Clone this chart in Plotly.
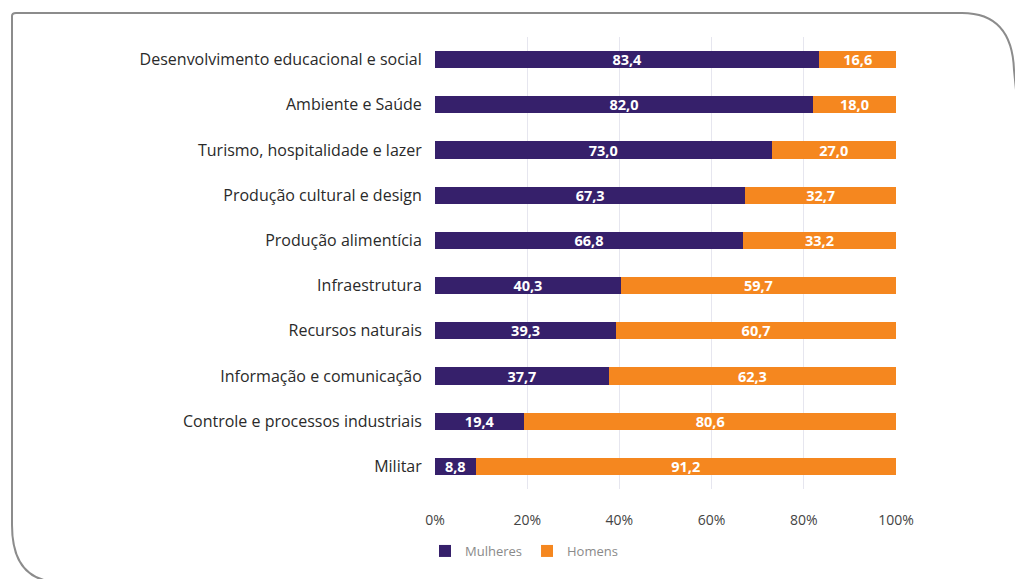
import plotly.graph_objects as go

categories = [
    "Desenvolvimento educacional e social",
    "Ambiente e Saúde",
    "Turismo, hospitalidade e lazer",
    "Produção cultural e design",
    "Produção alimentícia",
    "Infraestrutura",
    "Recursos naturais",
    "Informação e comunicação",
    "Controle e processos industriais",
    "Militar",
]
mulheres = [83.4, 82.0, 73.0, 67.3, 66.8, 40.3, 39.3, 37.7, 19.4, 8.8]
homens = [16.6, 18.0, 27.0, 32.7, 33.2, 59.7, 60.7, 62.3, 80.6, 91.2]
tick_vals = [0, 20, 40, 60, 80, 100]
tick_text = ["0%", "20%", "40%", "60%", "80%", "100%"]

PURPLE = "#36206b"
ORANGE = "#f5871f"

def fmt(v):
    return f"{v:.1f}".replace(".", ",")

label_font = dict(color="white", size=14.5, family="Open Sans", weight="bold")

fig = go.Figure()
fig.add_trace(go.Bar(
    y=categories, x=mulheres, name="Mulheres", orientation="h",
    marker=dict(color=PURPLE, line=dict(width=0)),
    text=[fmt(v) for v in mulheres], textposition="inside",
    insidetextanchor="middle", constraintext="none",
    textfont=label_font,
))
fig.add_trace(go.Bar(
    y=categories, x=homens, name="Homens", orientation="h",
    marker=dict(color=ORANGE, line=dict(width=0)),
    text=[fmt(v) for v in homens], textposition="inside",
    insidetextanchor="middle", constraintext="none",
    textfont=label_font,
))

W, H = 1015, 579
L, R, T, B = 435, 896, 37, 489

def px(x):
    return (x - L) / (R - L)

def py(y):
    return (B - y) / (B - T)

pts = [(60, 582), (12, 582), (12, 525), (12, 16), (12, 13), (16, 13), (962, 13), (1012, 13), (1014, 70), (1016, 90)]
p = [(px(a), py(b)) for a, b in pts]
path = (f"M {p[0][0]},{p[0][1]} Q {p[1][0]},{p[1][1]} {p[2][0]},{p[2][1]} "
        f"L {p[3][0]},{p[3][1]} Q {p[4][0]},{p[4][1]} {p[5][0]},{p[5][1]} "
        f"L {p[6][0]},{p[6][1]} Q {p[7][0]},{p[7][1]} {p[8][0]},{p[8][1]} "
        f"L {p[9][0]},{p[9][1]}")

fig.update_layout(
    barmode="stack",
    bargap=0.62,
    width=W, height=H,
    margin=dict(l=L, r=W - R, t=T, b=H - B, autoexpand=False),
    paper_bgcolor="white", plot_bgcolor="white",
    font=dict(family="Open Sans", color="#222"),
    showlegend=True,
    legend=dict(orientation="h", x=px(425), y=py(551), xanchor="left", yanchor="middle",
                font=dict(size=13, color="#8a8a8a"), itemwidth=30,
                traceorder="normal", tracegroupgap=0),
    xaxis=dict(range=[0, 100], tickvals=tick_vals, ticktext=tick_text,
               showgrid=True, gridcolor="#e6e6ef", gridwidth=1, zeroline=False,
               ticks="outside", ticklen=18, tickcolor="rgba(0,0,0,0)",
               tickfont=dict(size=14, color="#444"), showline=False, fixedrange=True),
    yaxis=dict(categoryorder="array", categoryarray=categories, autorange="reversed",
               tickfont=dict(size=16, color="#2a2a2a"), ticks="outside", ticklen=9,
               tickcolor="rgba(0,0,0,0)", showgrid=False, fixedrange=True),
    shapes=[dict(type="path", path=path, xref="paper", yref="paper",
                 line=dict(color="#8c8c8c", width=2), fillcolor="rgba(0,0,0,0)", layer="below")],
)

fig.write_html("out.html", config={"displayModeBar": False},
               post_script="document.body.style.margin='0';document.body.style.overflow='hidden';")
